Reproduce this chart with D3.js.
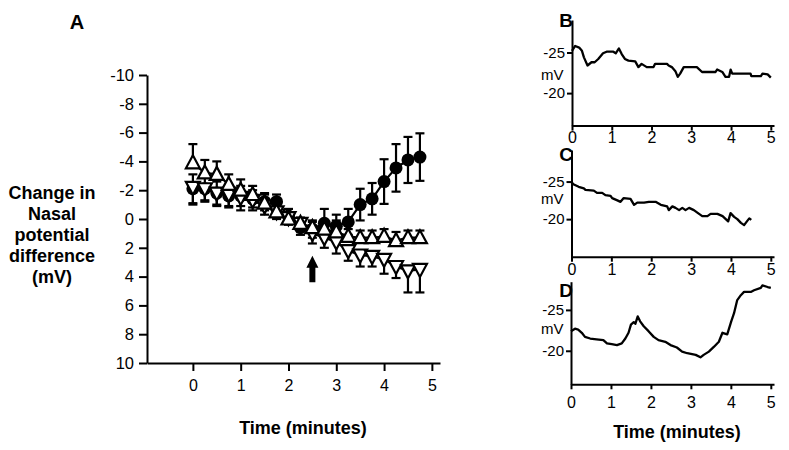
<!DOCTYPE html>
<html><head><meta charset="utf-8">
<script src="https://cdn.jsdelivr.net/npm/d3@7"></script>
<style>
html,body{margin:0;padding:0;background:#fff;}
svg text{font-family:"Liberation Sans",Arial,Helvetica,sans-serif;fill:#000;}
</style></head>
<body>
<svg id="chart" width="789" height="450"></svg>
<script>
// ---------- Panel A data ----------
const timeA = [0,0.25,0.5,0.75,1,1.25,1.5,1.75,2,2.25,2.5,2.75,3,3.25,3.5,3.75,4,4.25,4.5,4.75];
const circleMean = [-2.1,-2.1,-1.8,-1.6,-1.6,-1.4,-1.2,-1.2,-0.2,0.6,0.7,0.3,0.5,0.2,-1.0,-1.4,-2.6,-3.55,-4.1,-4.3];
const circleErr  = [1.0,0.8,0.8,0.7,0.7,0.6,0.6,0.5,0.5,0.5,0.6,1.0,0.8,0.9,1.1,1.1,1.55,1.65,1.6,1.65];
const upMean = [-3.9,-3.2,-3.1,-2.4,-2.0,-1.7,-1.1,-0.5,0.0,0.3,0.6,0.7,0.9,1.2,1.3,1.3,1.2,1.5,1.3,1.3];
const upErr  = [1.3,0.9,0.9,0.7,0.75,0.6,0.6,0.5,0.4,0.4,0.4,0.5,0.8,0.5,0.5,0.5,0.5,0.6,0.5,0.5];
const downMean = [-2.2,-2.1,-1.8,-1.7,-1.5,-1.3,-0.9,-0.5,-0.1,0.3,1.0,1.3,1.6,2.2,2.5,2.6,2.8,3.3,3.6,3.5];
const downErr  = [1.2,0.9,0.9,0.9,0.9,0.7,0.6,0.5,0.5,0.5,0.7,0.7,0.8,0.7,0.8,0.7,1.0,0.8,1.5,1.6];
const yTicksA = [-10,-8,-6,-4,-2,0,2,4,6,8,10];
const xTicksA = [0,1,2,3,4,5];
const arrowTime = 2.5;
const arrowSpan = [2.55, 4.4];

// ---------- Panels B, C, D traces ----------
const timeB = [0,0.08,0.18,0.25,0.3,0.39,0.49,0.57,0.66,0.78,0.87,1.04,1.1,1.18,1.25,1.33,1.42,1.59,1.67,1.75,1.88,2.05,2.09,2.39,2.43,2.51,2.6,2.66,2.72,2.81,2.89,3.14,3.27,3.61,3.65,3.78,3.86,3.95,3.99,4.03,4.49,4.51,4.75,4.79,4.92,5.0];
const valB  = [-25.2,-25.8,-25.6,-25.2,-24.4,-23.4,-23.8,-23.8,-24.2,-24.9,-25.1,-25.1,-24.9,-25.5,-24.8,-24.2,-24.0,-23.9,-23.2,-23.6,-23.2,-23.2,-23.6,-23.6,-23.4,-23.2,-22.7,-22.0,-22.4,-23.2,-23.2,-23.2,-22.6,-22.6,-22.9,-22.6,-22.0,-22.0,-22.9,-22.4,-22.4,-22.1,-22.1,-22.4,-22.3,-21.9];
const timeC = [0,0.06,0.18,0.31,0.35,0.56,0.64,0.77,0.85,0.98,1.02,1.15,1.23,1.31,1.48,1.57,1.65,1.82,1.94,2.11,2.24,2.4,2.44,2.53,2.61,2.7,2.78,2.86,2.95,3.07,3.2,3.28,3.41,3.49,3.66,3.79,3.87,3.93,3.99,4.08,4.16,4.25,4.33,4.4,4.46,4.51];
const valC  = [-24.9,-24.6,-24.3,-24.1,-23.9,-23.8,-23.5,-23.5,-23.2,-23.1,-22.8,-22.5,-22.3,-22.8,-22.7,-21.9,-22.2,-22.2,-22.3,-22.3,-21.9,-21.7,-21.2,-21.7,-21.5,-21.2,-21.5,-21.2,-21.5,-21.2,-20.7,-20.4,-20.4,-20.7,-20.7,-20.4,-20.0,-19.7,-20.8,-20.3,-20.0,-19.5,-19.2,-19.7,-20.1,-19.9];
const timeD = [0,0.1,0.18,0.27,0.35,0.48,0.64,0.81,0.9,1.02,1.15,1.27,1.36,1.44,1.5,1.57,1.61,1.67,1.73,1.82,1.94,2.07,2.19,2.36,2.49,2.65,2.78,2.91,3.03,3.12,3.24,3.32,3.45,3.58,3.7,3.79,3.91,4.01,4.08,4.16,4.25,4.33,4.5,4.58,4.75,4.79,4.92,5.0];
const valD  = [-22.4,-22.7,-22.6,-22.2,-21.7,-21.5,-21.4,-21.3,-20.9,-20.8,-20.7,-20.9,-21.5,-22.2,-23.2,-23.5,-23.3,-24.2,-23.6,-23.0,-22.4,-21.7,-21.3,-21.1,-20.7,-20.4,-19.9,-19.7,-19.6,-19.5,-19.2,-19.5,-19.9,-20.5,-21.1,-22.2,-22.0,-23.6,-24.6,-26.2,-26.8,-27.2,-27.2,-27.4,-27.7,-28.0,-27.8,-27.7];
const yTicksSmall = [-25,-20];
const xTicksSmall = [0,1,2,3,4,5];

// ---------- drawing ----------
const svg = d3.select("#chart");
const fmt = d => String(d);

function styleAxis(g, fontSize){
  g.selectAll("path.domain").attr("stroke","#000").attr("stroke-width",2);
  g.selectAll(".tick line").attr("stroke","#000").attr("stroke-width",2);
  g.selectAll(".tick text").attr("font-size",fontSize).attr("font-family","Liberation Sans, Arial, sans-serif").attr("fill","#000");
}

// Panel A
const xA = d3.scaleLinear().domain([-0.96,5.17]).range([147,440]);
const yA = d3.scaleLinear().domain([-10,10]).range([75,363]);

const gAy = svg.append("g").attr("transform","translate(147,0)")
  .call(d3.axisLeft(yA).tickValues(yTicksA).tickFormat(fmt).tickSize(8).tickSizeOuter(0).tickPadding(5));
styleAxis(gAy, 16.5);
const gAx = svg.append("g").attr("transform","translate(0,363)")
  .call(d3.axisBottom(xA).tickValues(xTicksA).tickFormat(fmt).tickSize(8).tickSizeOuter(0).tickPadding(9));
styleAxis(gAx, 16);

const series = [
  {mean: circleMean, err: circleErr, shape: "circle", dir: "both"},
  {mean: downMean, err: downErr, shape: "down", dir: "down"},
  {mean: upMean, err: upErr, shape: "up", dir: "up"}
];
const lineA = d3.line().x(d => xA(d.t)).y(d => yA(d.v));
const plot = svg.append("g");
series.forEach(s => {
  s.pts = timeA.map((t,i) => ({t, v: s.mean[i], e: s.err[i]}));
  plot.append("path").datum(s.pts).attr("d", lineA)
    .attr("fill","none").attr("stroke","#000").attr("stroke-width",2.2);
});
series.forEach(s => {
  const g = plot.append("g");
  s.pts.forEach(p => {
    const x = xA(p.t);
    const top = s.dir === "down" ? p.v : p.v - p.e;
    const bot = s.dir === "up" ? p.v : p.v + p.e;
    g.append("line").attr("x1",x).attr("x2",x).attr("y1",yA(top)).attr("y2",yA(bot))
      .attr("stroke","#000").attr("stroke-width",2.2);
    if (s.dir !== "down") g.append("line").attr("x1",x-4.5).attr("x2",x+4.5).attr("y1",yA(top)).attr("y2",yA(top)).attr("stroke","#000").attr("stroke-width",2.2);
    if (s.dir !== "up") g.append("line").attr("x1",x-4.5).attr("x2",x+4.5).attr("y1",yA(bot)).attr("y2",yA(bot)).attr("stroke","#000").attr("stroke-width",2.2);
  });
});
series.forEach(s => {
  const g = plot.append("g");
  s.pts.forEach(p => {
    const x = xA(p.t), y = yA(p.v);
    if (s.shape === "circle") {
      g.append("circle").attr("cx",x).attr("cy",y).attr("r",6.5).attr("fill","#000");
    } else if (s.shape === "up") {
      g.append("path").attr("d",`M${x},${y-7.5}L${x+7},${y+5.5}L${x-7},${y+5.5}Z`)
        .attr("fill","#fff").attr("stroke","#000").attr("stroke-width",2.2);
    } else {
      g.append("path").attr("d",`M${x},${y+7.5}L${x+7},${y-5.5}L${x-7},${y-5.5}Z`)
        .attr("fill","#fff").attr("stroke","#000").attr("stroke-width",2.2);
    }
  });
});

// arrow
{
  const ax = xA(arrowTime), yt = yA(arrowSpan[0]), yb = yA(arrowSpan[1]);
  const yh = yt + 12;
  svg.append("path").attr("d",`M${ax},${yt}L${ax+6},${yh}L${ax+3},${yh}L${ax+3},${yb}L${ax-3},${yb}L${ax-3},${yh}L${ax-6},${yh}Z`)
    .attr("fill","#000");
}

// Panel A labels
svg.append("text").attr("x",77).attr("y",29).attr("text-anchor","middle")
  .attr("font-size",20).attr("font-weight","bold").text("A");
const yLab = ["Change in","Nasal","potential","difference","(mV)"];
yLab.forEach((t,i) => svg.append("text").attr("x",52).attr("y",199 + i*21)
  .attr("text-anchor","middle").attr("font-size",18).attr("font-weight","bold").text(t));
svg.append("text").attr("x",303).attr("y",434).attr("text-anchor","middle")
  .attr("font-size",18).attr("font-weight","bold").text("Time (minutes)");

// Small panels
const panels = [
  {letter:"B", t: timeB, v: valB, yDom:[-29,-16], yRange:[20,125.6], xRange:[572,774], lb:27, mvY:80, pad:1},
  {letter:"C", t: timeC, v: valC, yDom:[-29.2,-15], yRange:[150,256.7], xRange:[571.5,774], lb:161, mvY:204, pad:2},
  {letter:"D", t: timeD, v: valD, yDom:[-28.45,-15.9], yRange:[281.7,384.3], xRange:[571,774], lb:297, mvY:334, pad:7}
];
panels.forEach(p => {
  const x = d3.scaleLinear().domain([0,5.08]).range(p.xRange);
  const y = d3.scaleLinear().domain(p.yDom).range(p.yRange);
  const gy = svg.append("g").attr("transform",`translate(${p.xRange[0]},0)`)
    .call(d3.axisLeft(y).tickValues(yTicksSmall).tickFormat(fmt).tickSize(5).tickSizeOuter(0).tickPadding(2));
  styleAxis(gy, 15);
  const gx = svg.append("g").attr("transform",`translate(0,${p.yRange[1]})`)
    .call(d3.axisBottom(x).tickValues(xTicksSmall).tickFormat(fmt).tickSize(5).tickSizeOuter(0).tickPadding(p.pad));
  styleAxis(gx, 16);
  const pts = p.t.map((t,i)=>({t, v:p.v[i]}));
  svg.append("path").datum(pts)
    .attr("d", d3.line().x(d=>x(d.t)).y(d=>y(d.v)))
    .attr("fill","none").attr("stroke","#000").attr("stroke-width",2.3).attr("stroke-linejoin","round");
  svg.append("text").attr("x",566).attr("y",p.lb).attr("text-anchor","middle")
    .attr("font-size",19).attr("font-weight","bold").text(p.letter);
  svg.append("text").attr("x",541).attr("y",p.mvY).attr("font-size",15).text("mV");
});
svg.append("text").attr("x",677).attr("y",438).attr("text-anchor","middle")
  .attr("font-size",18).attr("font-weight","bold").text("Time (minutes)");
</script>
</body></html>
